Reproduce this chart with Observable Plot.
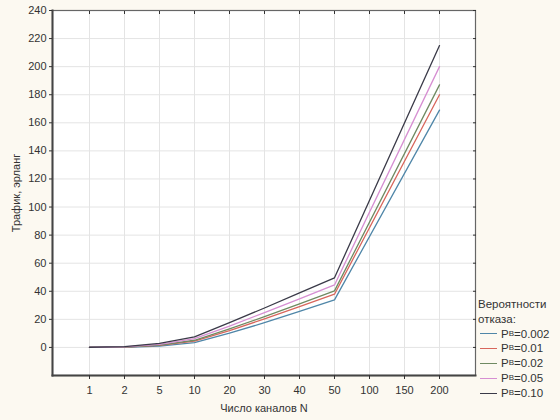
<!DOCTYPE html>
<html>
<head>
<meta charset="utf-8">
<script src="https://cdn.jsdelivr.net/npm/d3@7"></script>
<script src="https://cdn.jsdelivr.net/npm/@observablehq/plot@0.6"></script>
<style>
  html, body { margin: 0; padding: 0; background: #fcf9f1; }
  #wrap { position: relative; width: 560px; height: 420px; font-family: "Liberation Sans", Arial, sans-serif; }
  #legend { position: absolute; left: 478px; top: 297px; font-size: 11.5px; color: #333; line-height: 14.8px; }
  #legend .item { display: flex; align-items: center; white-space: nowrap; }
  #legend .sw { display: inline-block; width: 17px; height: 0; border-top: 1.6px solid; margin: 0 4px 0 2px; }
  #legend sub { font-size: 8px; vertical-align: -2px; }
</style>
</head>
<body>
<div id="wrap"></div>
<script>
// Categories on the x axis (ordinal)
const xLabels = ["1", "2", "5", "10", "20", "30", "40", "50", "100", "150", "200"];
// Channel counts at which values exist
const nPoints = ["1", "2", "5", "10", "20", "30", "40", "50", "200"];
// Series (blocking probability)
const seriesNames = ["0.002", "0.01", "0.02", "0.05", "0.10"];
const seriesColors = ["#4f86a8", "#d8665c", "#6f8a62", "#d68fd2", "#3a3a48"];
const p002 = [0.0, 0.07, 0.9, 3.4, 10.1, 17.6, 25.6, 33.9, 169];
const p01  = [0.01, 0.15, 1.4, 4.5, 12.0, 20.3, 29.0, 37.9, 180];
const p02  = [0.02, 0.22, 1.7, 5.1, 13.2, 21.9, 31.0, 40.3, 187];
const p05  = [0.05, 0.38, 2.2, 6.2, 15.2, 24.8, 34.6, 44.5, 200];
const p10  = [0.11, 0.60, 2.9, 7.5, 17.6, 28.1, 38.8, 49.6, 215];
const yTicks = [0, 20, 40, 60, 80, 100, 120, 140, 160, 180, 200, 220, 240];

const seriesValues = [p002, p01, p02, p05, p10];
const data = [];
seriesValues.forEach((vals, i) => {
  vals.forEach((v, j) => data.push({ n: nPoints[j], traffic: v, s: seriesNames[i] }));
});

const font = "Liberation Sans, Arial, sans-serif";
const chart = Plot.plot({
  width: 560,
  height: 420,
  marginLeft: 52,
  marginRight: 85,
  marginTop: 10,
  marginBottom: 45,
  style: { fontFamily: font, fontSize: "11px", color: "#333", background: "transparent" },
  x: { type: "point", domain: xLabels, padding: 1 },
  y: { domain: [-20, 240] },
  color: { domain: seriesNames, range: seriesColors },
  marks: [
    Plot.frame({ fill: "white", stroke: null }),
    Plot.gridX(xLabels, { stroke: "#e4e4e4", strokeOpacity: 1 }),
    Plot.gridY(yTicks, { stroke: "#e4e4e4", strokeOpacity: 1 }),
    Plot.frame({ stroke: "#666", strokeWidth: 1.2 }),
    Plot.frame({ anchor: "left", stroke: "#444", strokeWidth: 2 }),
    Plot.frame({ anchor: "bottom", stroke: "#444", strokeWidth: 2 }),
    Plot.axisY(yTicks, { tickSize: 3, tickPadding: 3, label: "Трафик, эрланг", labelAnchor: "center", labelArrow: "none", labelOffset: 40, fontSize: 11 }),
    Plot.axisY(yTicks, { anchor: "right", tickSize: -3, tickFormat: () => "", label: null }),
    Plot.axisX(xLabels, { tickSize: 4, tickPadding: 7, label: "Число каналов N", labelAnchor: "center", labelArrow: "none", labelOffset: 36, fontSize: 11 }),
    Plot.axisX(xLabels, { anchor: "top", tickSize: -3, tickFormat: () => "", label: null }),
    Plot.lineY(data, { x: "n", y: "traffic", stroke: "s", z: "s", strokeWidth: 1.3 })
  ]
});
const wrap = document.getElementById("wrap");
wrap.appendChild(chart);

const legend = document.createElement("div");
legend.id = "legend";
let html = "<div>Вероятности</div><div>отказа:</div>";
seriesNames.forEach((s, i) => {
  html += `<div class="item"><span class="sw" style="border-color:${seriesColors[i]}"></span>P<sub>B</sub>=${s}</div>`;
});
legend.innerHTML = html;
wrap.appendChild(legend);
</script>
</body>
</html>
